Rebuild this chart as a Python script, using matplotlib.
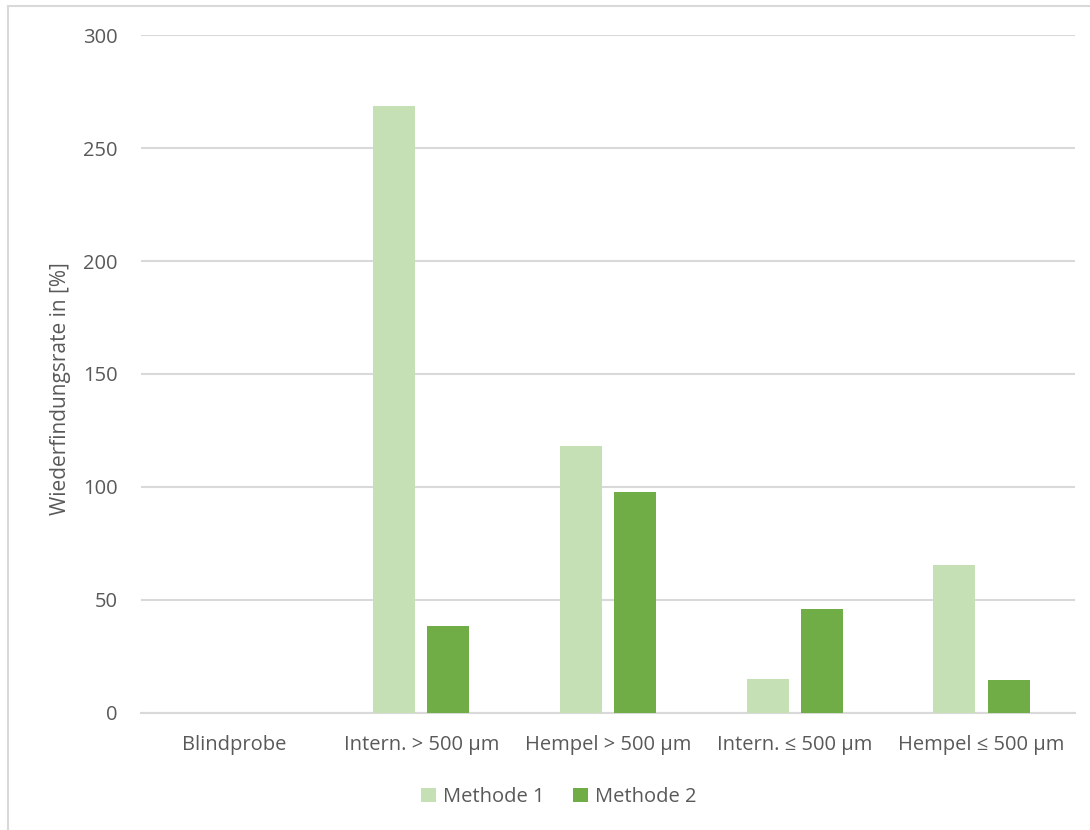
import numpy as np
import matplotlib.pyplot as plt
from matplotlib.lines import Line2D

plt.rcParams['font.family'] = ['Open Sans', 'DejaVu Sans']

categories = ['Blindprobe', 'Intern. > 500 µm', 'Hempel > 500 µm', 'Intern. ≤ 500 µm', 'Hempel ≤ 500 µm']
methode_1 = [0, 268.6, 118.0, 14.9, 65.5]
methode_2 = [0, 38.5, 97.8, 45.9, 14.5]

col_m1 = '#c5e0b4'
col_m2 = '#70ad47'
grey_text = '#595959'
grid_col = '#d9d9d9'

fig = plt.figure(figsize=(10.9, 8.3), dpi=100)
ax = fig.add_axes([0.1294, 0.1410, 0.8568, 0.8168])

x = np.arange(len(categories))
w = 0.225
off = 0.145
ax.bar(x - off, methode_1, width=w, color=col_m1, label='Methode 1', zorder=3)
ax.bar(x + off, methode_2, width=w, color=col_m2, label='Methode 2', zorder=3)

ax.set_xlim(-0.5, len(categories) - 0.5)
ax.set_ylim(0, 300)
ax.set_yticks(np.arange(0, 301, 50))
ax.set_xticks(x)
ax.set_xticklabels(categories)
ax.yaxis.grid(True, color=grid_col, linewidth=1.5, zorder=0)
ax.tick_params(axis='both', length=0, labelsize=14.5, colors=grey_text)
ax.tick_params(axis='x', pad=16)
ax.tick_params(axis='y', pad=17)
for s in ['top', 'right', 'left']:
    ax.spines[s].set_visible(False)
ax.spines['bottom'].set_color(grid_col)
ax.spines['bottom'].set_linewidth(1.5)

ax.set_ylabel('Wiederfindungsrate in [%]', fontsize=15, color=grey_text)
ax.yaxis.set_label_coords(-0.075, 0.479)

ax.legend(loc='center', bbox_to_anchor=(0.447, -0.124), ncol=2, frameon=False,
          fontsize=14.5, labelcolor=grey_text, handlelength=0.75, handleheight=0.75,
          handletextpad=0.35, columnspacing=1.4)

# chart frame
fig.add_artist(Line2D([8 / 1090, 8 / 1090], [0, 1 - 6 / 830], transform=fig.transFigure,
                      color=grid_col, linewidth=1.5))
fig.add_artist(Line2D([8 / 1090, 1], [1 - 6 / 830, 1 - 6 / 830], transform=fig.transFigure,
                      color=grid_col, linewidth=1.5))

fig.savefig('out.png', dpi=100)
